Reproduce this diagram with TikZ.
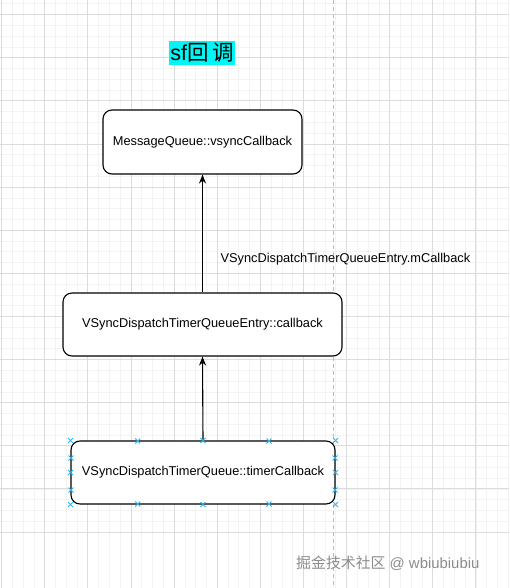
\documentclass[tikz,border=0pt]{standalone}
\usepackage{fontspec}
\setmainfont{Liberation Sans}
\newfontfamily\cjk{Noto Sans CJK SC}
\usetikzlibrary{arrows.meta}
\definecolor{minorgrid}{HTML}{F3F3F3}
\definecolor{majorgrid}{HTML}{DCDCDC}
\definecolor{pagebreak}{HTML}{BBBBBB}
\definecolor{handle}{HTML}{29B6F2}
\definecolor{titlebg}{HTML}{00F5F5}
\tikzset{
  box/.style={draw=black, line width=1.1pt, rounded corners=9pt, fill=white, font=\fontsize{12.8}{15}\selectfont},
  conn/.style={line width=1.1pt, -{Stealth[length=9pt,width=7pt]}},
  hmark/.style={handle, line width=0.9pt},
}
\begin{document}
\begin{tikzpicture}[x=1pt,y=-1pt]
\useasboundingbox (0,0) rectangle (509,588);
\fill[white] (0,0) rectangle (509,588);
% minor grid
\foreach \i in {-2,...,48} {
  \draw[minorgrid, line width=0.5pt] ({1.5+\i*10.78},0) -- ({1.5+\i*10.78},588);
  \draw[minorgrid, line width=0.5pt] (0,{14.5+\i*10.78}) -- (509,{14.5+\i*10.78});
}
% major grid
\foreach \i in {0,...,12} {
  \draw[majorgrid, line width=0.7pt] ({1.5+\i*43.12},0) -- ({1.5+\i*43.12},588);
  \draw[majorgrid, line width=0.7pt] (0,{14.5+\i*43.12}) -- (509,{14.5+\i*43.12});
}
% page break line
\draw[pagebreak, line width=0.8pt, dash pattern=on 4pt off 3pt] (333,0) -- (333,588);

% title
\node[fill=titlebg, inner xsep=1pt, inner ysep=2pt, font=\fontsize{21.5}{23}\selectfont] (title) at (202,53) {sf{\cjk 回\,调}};

% boxes
\node[box, minimum width=199pt, minimum height=64pt] (mq) at (202.5,142) {MessageQueue::vsyncCallback};
\node[box, minimum width=279pt, minimum height=63pt] (entry) at (202.5,324.5) {VSyncDispatchTimerQueueEntry::callback};
\node[box, minimum width=264pt, minimum height=63pt] (timer) at (203,472.5) {VSyncDispatchTimerQueue::timerCallback};

% connectors
\draw[conn] (timer.north) -- (entry.south);
\draw[conn] (entry.north) -- (mq.south);
\node[anchor=west, font=\fontsize{12.8}{15}\selectfont] (lbl) at (217,259) {VSyncDispatchTimerQueueEntry.mCallback};

% selection handles
\foreach \p in {timer.north west, timer.north, timer.north east, timer.south west, timer.south, timer.south east, timer.west, timer.east} {
  \draw[hmark] ([shift={(-2.5,-2.5)}]\p) -- ([shift={(2.5,2.5)}]\p);
  \draw[hmark] ([shift={(-2.5,2.5)}]\p) -- ([shift={(2.5,-2.5)}]\p);
}
\foreach \xx in {137.7,269} {
  \foreach \yy in {441,504} {
    \draw[hmark] (\xx-2.5,\yy-2.5) -- (\xx+2.5,\yy+2.5);
    \draw[hmark] (\xx-2.5,\yy+2.5) -- (\xx+2.5,\yy-2.5);
  }
}
\foreach \xx in {71,335} {
  \foreach \yy in {458,490} {
    \draw[hmark] (\xx-2.5,\yy-2.5) -- (\xx+2.5,\yy+2.5);
    \draw[hmark] (\xx-2.5,\yy+2.5) -- (\xx+2.5,\yy-2.5);
  }
}

% watermark
\node[anchor=west, text=black!45, font=\fontsize{14.9}{17}\selectfont, inner sep=0pt] (wm) at (296,563) {{\cjk 掘金技术社区} @ wbiubiubiu};
\end{tikzpicture}
\end{document}
